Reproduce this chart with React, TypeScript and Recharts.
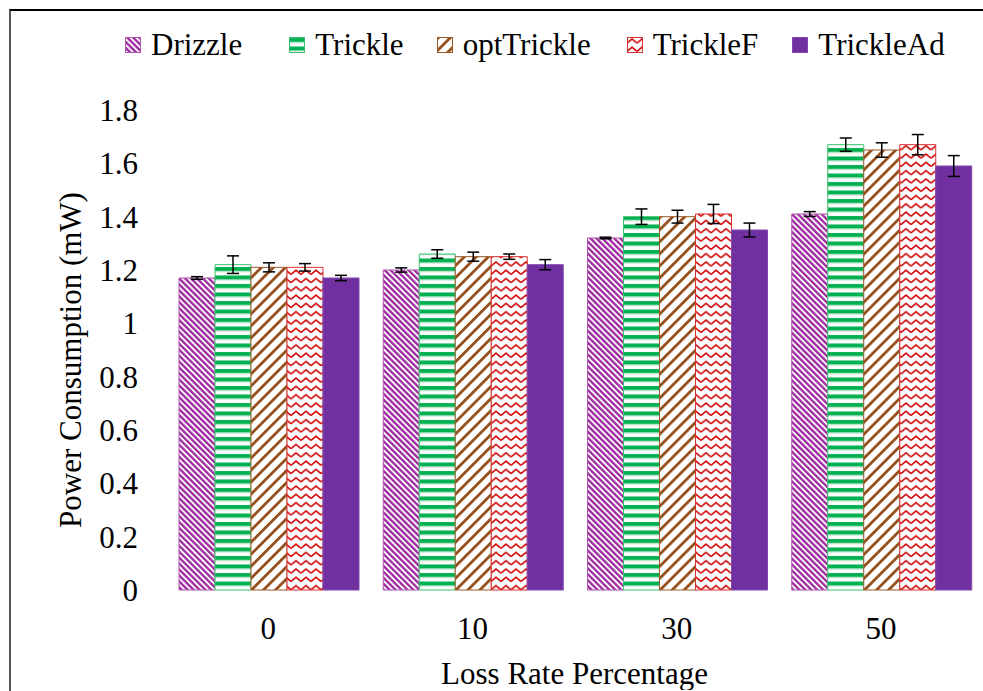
import { BarChart, Bar, XAxis, YAxis, ErrorBar, Legend, Label } from 'recharts'

const categories = ['0', '10', '30', '50']

const drizzle = [1.17, 1.2, 1.32, 1.41]
const drizzleErr = [0.005, 0.008, 0.003, 0.009]
const trickle = [1.22, 1.26, 1.4, 1.67]
const trickleErr = [0.033, 0.016, 0.029, 0.025]
const optTrickle = [1.21, 1.25, 1.4, 1.65]
const optTrickleErr = [0.017, 0.017, 0.024, 0.027]
const trickleF = [1.21, 1.25, 1.41, 1.67]
const trickleFErr = [0.014, 0.01, 0.036, 0.038]
const trickleAd = [1.17, 1.22, 1.35, 1.59]
const trickleAdErr = [0.01, 0.019, 0.026, 0.039]

const yTicks = [0, 0.2, 0.4, 0.6, 0.8, 1, 1.2, 1.4, 1.6, 1.8]

const FONT = 'Liberation Serif'

const series = [
  { key: 'Drizzle', values: drizzle, errors: drizzleErr, fill: 'url(#pDrizzle)', stroke: '#B055B0' },
  { key: 'Trickle', values: trickle, errors: trickleErr, fill: 'url(#pTrickle)', stroke: '#3CC070' },
  { key: 'optTrickle', values: optTrickle, errors: optTrickleErr, fill: 'url(#pOpt)', stroke: '#9A5A28' },
  { key: 'TrickleF', values: trickleF, errors: trickleFErr, fill: 'url(#pTrickleF)', stroke: '#D83030' },
  { key: 'TrickleAd', values: trickleAd, errors: trickleAdErr, fill: '#7030A0', stroke: '#8048B0' },
]

// gap after each legend entry's text
const legendGaps = [47, 33, 36, 34, 0]

const data = categories.map((loss, i) => {
  const row: Record<string, string | number> = { loss }
  series.forEach((s) => {
    row[s.key] = s.values[i]
    row[s.key + 'Err'] = s.errors[i]
  })
  return row
})

function LegendContent() {
  return (
    <div style={{ display: 'flex', alignItems: 'center', height: 36, fontFamily: FONT, fontSize: 31, lineHeight: '36px', color: '#000' }}>
      {series.map((s, i) => (
        <div key={s.key} style={{ display: 'flex', alignItems: 'center', marginRight: legendGaps[i] }}>
          <svg width={16} height={16} style={{ marginRight: 10, display: 'block' }}>
            <rect x={0.5} y={0.5} width={15} height={15} fill={s.fill} stroke={s.stroke} strokeWidth={1} />
          </svg>
          <span>{s.key}</span>
        </div>
      ))}
    </div>
  )
}

const XTick = (props: any) => {
  const { x, y, payload } = props
  return (
    <text x={x} y={y} dy={22} textAnchor="middle" fontSize={31} fontFamily={FONT} fill="#000">
      {payload.value}
    </text>
  )
}

const YTick = (props: any) => {
  const { x, y, payload } = props
  return (
    <text x={x} y={y} dy={11} textAnchor="end" fontSize={31} fontFamily={FONT} fill="#000">
      {String(Number(Number(payload.value).toFixed(1)))}
    </text>
  )
}

export default function App() {
  return (
    <div style={{ position: 'fixed', left: 0, top: 0, width: 983, height: 691, overflow: 'hidden', background: '#fff' }}>
      <div
        style={{
          position: 'absolute',
          left: 9,
          top: 9,
          width: 974,
          height: 690,
          borderTop: '2px solid #000',
          borderLeft: '2px solid #555',
          overflow: 'hidden',
          fontFamily: FONT,
        }}
      >
        <BarChart
          width={974}
          height={679}
          data={data}
          margin={{ top: 99, right: 2, left: 0, bottom: 0 }}
          barCategoryGap={13}
          barGap={0}
        >
          <defs>
            <pattern id="pDrizzle" width="4.2" height="4.2" patternUnits="userSpaceOnUse" patternTransform="rotate(-45)">
              <rect width="4.2" height="4.2" fill="#fff" />
              <rect width="2.4" height="4.2" fill="#A02FA2" />
            </pattern>
            <pattern id="pTrickle" width="8" height="8.5" patternUnits="userSpaceOnUse">
              <rect width="8" height="8.5" fill="#fff" />
              <rect y="1" width="8" height="4" fill="#00B050" />
              <rect y="5" width="8" height="1" fill="#9FDDB8" />
            </pattern>
            <pattern id="pOpt" width="8.5" height="8.5" patternUnits="userSpaceOnUse" patternTransform="rotate(45)">
              <rect width="8.5" height="8.5" fill="#fff" />
              <rect width="2.8" height="8.5" fill="#96501E" />
            </pattern>
            <pattern id="pTrickleF" width="10" height="8.3" patternUnits="userSpaceOnUse">
              <rect width="10" height="8.3" fill="#fff" />
              <path d="M0,6 L5,2 L10,6" fill="none" stroke="#D00000" strokeWidth={1.6} />
            </pattern>
          </defs>
          <XAxis
            dataKey="loss"
            axisLine={false}
            tickLine={false}
            tick={<XTick />}
            tickMargin={21}
            height={100}
          >
            <Label
              value="Loss Rate Percentage"
              position="insideBottom"
              offset={6}
              style={{ fontSize: 31, fill: '#000', fontFamily: FONT }}
            />
          </XAxis>
          <YAxis
            domain={[0, 1.8]}
            ticks={yTicks}
            interval={0}
            axisLine={false}
            tickLine={false}
            tick={<YTick />}
            tickMargin={22}
            width={155}
          >
            <Label
              content={(props: any) => {
                const vb = props.viewBox || { x: 0, y: 99, width: 155, height: 480 }
                const x = vb.x + 70
                const y = vb.y + vb.height / 2 + 10
                return (
                  <text
                    x={x}
                    y={y}
                    transform={`rotate(-90 ${x} ${y})`}
                    textAnchor="middle"
                    fontSize={31}
                    fontFamily={FONT}
                    fill="#000"
                  >
                    Power Consumption (mW)
                  </text>
                )
              }}
            />
          </YAxis>
          <Legend
            verticalAlign="middle"
            align="center"
            layout="horizontal"
            content={() => <LegendContent />}
            wrapperStyle={{ left: 114, top: 16, width: 860, height: 36 }}
          />
          {series.map((s) => (
            <Bar
              key={s.key}
              dataKey={s.key}
              name={s.key}
              fill={s.fill}
              stroke={s.stroke}
              strokeWidth={1}
              isAnimationActive={false}
            >
              <ErrorBar dataKey={s.key + 'Err'} direction="y" width={6} stroke="#000" strokeWidth={1.5} />
            </Bar>
          ))}
        </BarChart>
      </div>
    </div>
  )
}
